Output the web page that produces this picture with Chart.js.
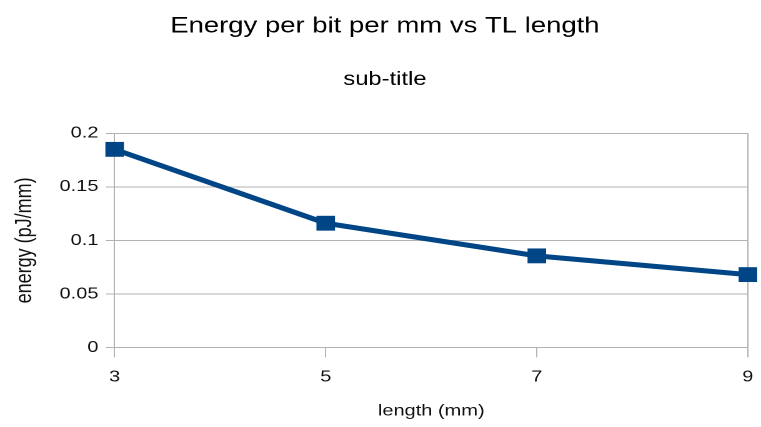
<!DOCTYPE html>
<html>
<head>
<meta charset="utf-8">
<script src="https://cdn.jsdelivr.net/npm/chart.js@4/dist/chart.umd.min.js"></script>
<style>
  html, body { margin: 0; padding: 0; background: #fff; }
  canvas { display: block; }
</style>
</head>
<body>
<!-- the reference is drawn a bit wide, so the canvas is stretched sideways -->
<canvas id="chart" width="609" height="427" style="width:761px;height:427px"></canvas>
<script>
// data
const lengths = [3, 5, 7, 9];
const energy = [0.185, 0.116, 0.0855, 0.068];
const yTicks = [0, 0.05, 0.1, 0.15, 0.2];

const titleText = 'Energy per bit per mm vs TL length';
const subtitleText = 'sub-title';
const xLabel = 'length (mm)';
const yLabel = 'energy (pJ/mm)';

const blue = '#004586';
const gridGray = '#b3b3b3';
const font = 'Liberation Sans';

new Chart(document.getElementById('chart').getContext('2d'), {
    type: 'line',
    data: {
        datasets: [{
            label: 'energy',
            data: lengths.map((x, i) => ({ x: x, y: energy[i] })),
            borderColor: blue,
            backgroundColor: blue,
            borderWidth: 5,
            pointStyle: 'rect',
            pointRadius: 10.5,
            pointBorderWidth: 0,
            pointBackgroundColor: blue,
            tension: 0,
            clip: false
        }]
    },
    options: {
        responsive: false,
        devicePixelRatio: 2,
        animation: false,
        layout: { padding: { top: 0, left: 7.6, right: 0.6, bottom: 6.4 } },
        plugins: {
            legend: { display: false },
            tooltip: { enabled: false },
            title: {
                display: true,
                text: titleText,
                color: '#000',
                font: { family: font, size: 22, weight: 'normal' },
                padding: { top: 13, bottom: 29.2 }
            },
            subtitle: {
                display: true,
                text: subtitleText,
                color: '#000',
                font: { family: font, size: 19, weight: 'normal' },
                padding: { top: 0, bottom: 41.9 }
            }
        },
        scales: {
            x: {
                type: 'linear',
                min: lengths[0],
                max: lengths[lengths.length - 1],
                // keep a small gap on the right instead of the label padding
                afterFit: (axis) => { axis.paddingLeft = 0; axis.paddingRight = 5.8; },
                grid: {
                    color: (ctx) => (ctx.tick && (ctx.tick.value === lengths[0] || ctx.tick.value === lengths[lengths.length - 1])) ? gridGray : 'rgba(0,0,0,0)',
                    tickColor: gridGray,
                    tickLength: 10,
                    lineWidth: 1
                },
                border: { color: gridGray },
                ticks: {
                    stepSize: 2,
                    padding: 10,
                    color: '#111',
                    font: { family: font, size: 16 }
                },
                title: {
                    display: true,
                    text: xLabel,
                    color: '#111',
                    font: { family: font, size: 16 },
                    padding: { top: 4.8, bottom: 0 }
                }
            },
            y: {
                min: yTicks[0],
                max: yTicks[yTicks.length - 1],
                afterBuildTicks: (axis) => { axis.ticks = yTicks.map(v => ({ value: v })); },
                grid: {
                    color: gridGray,
                    tickColor: gridGray,
                    tickLength: 7,
                    lineWidth: 1
                },
                border: { color: gridGray },
                ticks: {
                    padding: 6,
                    color: '#111',
                    font: { family: font, size: 16 },
                    callback: (v) => String(+v.toFixed(2))
                },
                title: {
                    display: true,
                    text: yLabel,
                    color: '#111',
                    font: { family: font, size: 18 },
                    padding: { top: 1.6, bottom: 10.8 }
                }
            }
        }
    }
});
</script>
</body>
</html>
